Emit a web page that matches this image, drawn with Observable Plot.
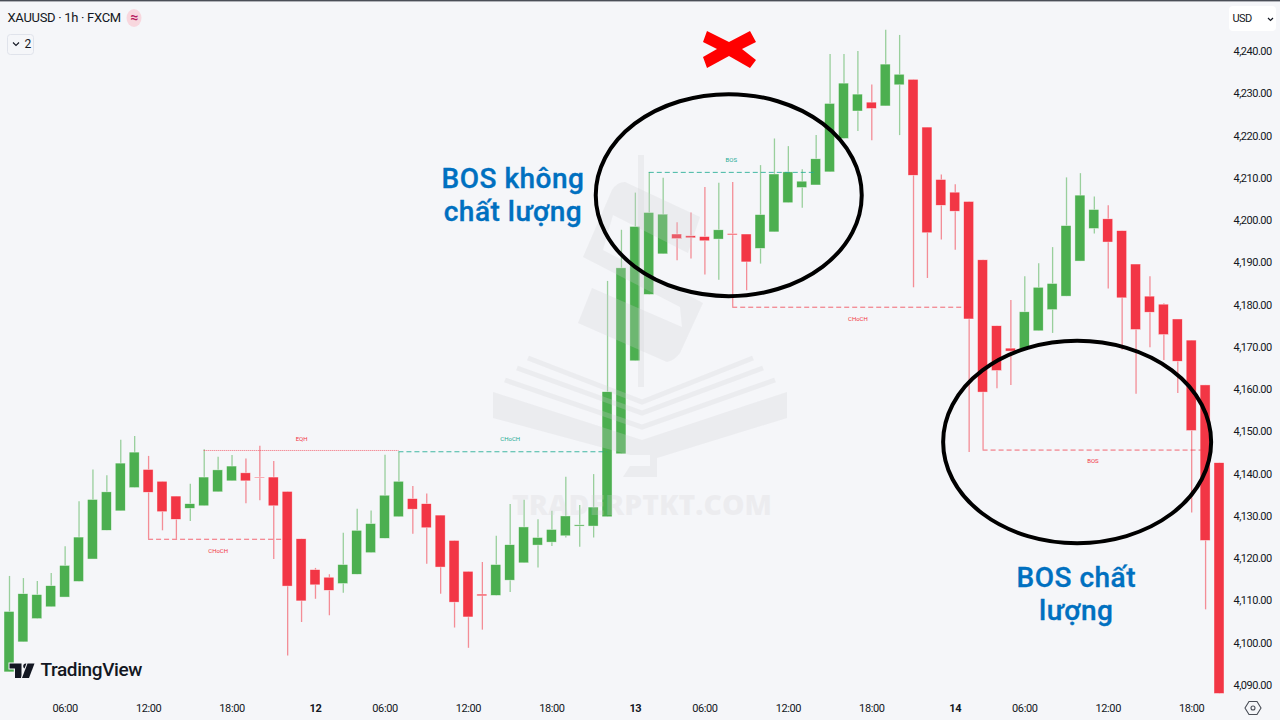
<!DOCTYPE html>
<html>
<head>
<meta charset="utf-8">
<script src="https://cdn.jsdelivr.net/npm/d3@7"></script>
<script src="https://cdn.jsdelivr.net/npm/@observablehq/plot@0.6"></script>
<style>
html,body{margin:0;padding:0;background:#f5f6f9;overflow:hidden}
svg{display:block}
g[aria-label="y-axis tick label"] text{letter-spacing:-.5px}
g[aria-label="x-axis tick label"] text{letter-spacing:-.4px}
.hdr text{letter-spacing:-.3px}
.usd text{letter-spacing:-.6px}
.note text{letter-spacing:.5px;stroke:#0070c0;stroke-width:.35px}
.tv text{letter-spacing:-.4px}
</style>
</head>
<body>
<div id="chart"></div>
<script>
const open = [4093.1,4100.2,4105.7,4108.5,4110.8,4114.5,4119.8,4126.6,4131.2,4136.7,
4141,4138.2,4134.7,4131.8,4132.4,4135.7,4138.3,4140.2,4139.2,4139.2,
4135.8,4124.6,4117.3,4115.5,4114,4116.2,4121.3,4124.7,4129.8,4134.1,
4132.9,4130.2,4124.2,4116.9,4111.5,4111.2,4114.8,4118.9,4123.1,4123.8,
4125.3,4127.6,4127.6,4129.8,4144.7,4166.7,4182.4,4192,4196.7,4196.3,
4196.1,4195.5,4196.8,4196.7,4193.3,4197.2,4204.1,4207.7,4208.3,4211.4,
4219.3,4225.8,4227.9,4227,4232,4233.3,4222,4209.6,4206.6,4204.4,
4190.6,4175,4169.7,4169.5,4173.8,4178.8,4182,4190.3,4198,4200.3,
4197.5,4189.6,4182,4180.1,4176.6,4171.6,4161,4142.6];
const close = [4107.4,4111.6,4111.4,4113.5,4118.3,4125,4133.9,4135.7,4142.5,4145.1,
4135.6,4131,4129.2,4132.9,4139.2,4140.9,4141.8,4138.3,4139,4132.4,
4113.4,4109.9,4113.7,4112.4,4118.5,4126.6,4128.2,4134.9,4138.2,4131.6,
4127.2,4117.9,4109.6,4106.1,4111.1,4118.5,4123.2,4127.4,4124.9,4126.8,
4130,4127.9,4132.1,4159.4,4188.7,4198.5,4201.8,4201.4,4195.6,4195.8,
4195.1,4197.7,4196.5,4190.1,4201.3,4210.9,4211.4,4209.2,4214.5,4227.6,
4232.4,4229.8,4226.4,4236.9,4234.5,4210.6,4197,4203.5,4202.1,4176.6,
4159.3,4164.4,4169,4178.3,4184.1,4185,4198.7,4205.9,4202.5,4194.8,
4181.6,4174.1,4178.2,4172.9,4166.6,4150.2,4124.2,4088];
const high = [4115.8,4115.3,4114.6,4116.5,4122.8,4133.5,4141,4139.6,4148,4148.9,
4144.2,4138.2,4134.7,4137.6,4145.8,4144,4144.4,4143.6,4146.6,4143,
4135.8,4124.6,4117.7,4116.2,4126,4131.7,4131.3,4144.5,4145.2,4137.1,
4135.3,4130.2,4124.2,4116.9,4119.1,4125.3,4132.8,4133.8,4129.2,4131.2,
4139.3,4132.6,4139.9,4185.6,4197.7,4206.5,4211.4,4210,4199.5,4201.8,
4207.8,4208.8,4209,4196.7,4213,4219.3,4217.5,4212,4220.1,4239.3,
4239.3,4240,4232.1,4245,4243.8,4233.3,4222,4210.8,4208.5,4204.4,
4190.6,4175,4181.1,4186.7,4189.8,4193.6,4210.1,4211.1,4205.6,4203.5,
4197.5,4189.6,4186.7,4180.3,4176.6,4171.6,4161,4142.6];
const low = [4093.1,4100.2,4105.7,4108.5,4110.8,4114.5,4119.8,4126.6,4131.2,4136.7,
4124.6,4126.6,4124.6,4128.8,4132.4,4135.7,4138.3,4133,4133.7,4119.8,
4097,4104.9,4110.4,4106.5,4111.8,4116.2,4121.3,4124.7,4129.8,4125.8,
4118.7,4111.6,4103.6,4098.8,4103.1,4111.2,4112,4118.9,4117.8,4122.9,
4124.9,4122.7,4124.9,4129.8,4144.7,4166.7,4182.4,4192,4190.5,4190.9,
4187.1,4185.9,4179.5,4183.4,4189.7,4197.2,4204.1,4202.9,4208.3,4211.4,
4219.3,4221.1,4218.9,4227,4220.1,4184.1,4186.3,4195.4,4193,4145.1,
4145.7,4160.2,4161,4169.5,4173.8,4173.3,4182,4190.3,4196.8,4183.8,
4169.3,4158.9,4169.9,4166.9,4159.1,4130.8,4107.9,4088];

const priceTicks = [4090,4100,4110,4120,4130,4140,4150,4160,4170,4180,4190,4200,4210,4220,4230,4240];
const hourTicks = [4,10,16,27,33,39,50,56,62,73,79,85];
const hourLabels = ["06:00","12:00","18:00","06:00","12:00","18:00","06:00","12:00","18:00","06:00","12:00","18:00"];
const dayTicks = [22,45,68];
const dayLabels = ["12","13","14"];

const structLines = [
  {x1:14,x2:28,y:4145.6,kind:"eqh"},
  {x1:28,x2:43,y:4145.3,kind:"up"},
  {x1:46,x2:58,y:4211.4,kind:"up"},
  {x1:52,x2:69,y:4179.5,kind:"down"},
  {x1:10,x2:20,y:4124.6,kind:"down"},
  {x1:70,x2:86,y:4145.7,kind:"down"}
];
const structLabels = [
  {x:21,y:4148.2,t:"EQH",kind:"down"},
  {x:36,y:4148.2,t:"CHoCH",kind:"up"},
  {x:51.9,y:4214.4,t:"BOS",kind:"up"},
  {x:61,y:4176.8,t:"CHoCH",kind:"down"},
  {x:15,y:4121.7,t:"CHoCH",kind:"down"},
  {x:77.9,y:4143,t:"BOS",kind:"down"}
];
const notes = [
  {x:36.2,y:4206.3,t:"BOS không\nchất lượng"},
  {x:76.7,y:4111.8,t:"BOS chất\nlượng"}
];
const rings = [
  {x:51.75,y:4205.9,rx:133,ry:101},
  {x:76.8,y:4147.5,rx:134,ry:101.2}
];

const GREEN="#4caf50", RED="#f23645", UP_LINE="#22ab94";
const bars = open.map((o,i)=>({i,o,c:close[i],h:high[i],l:low[i],up:close[i]>=o}));
const col = d=>d.up?GREEN:RED;

function decor(index, scales){
  const g = d3.create("svg:g");
  // top strip
  g.append("rect").attr("width",1280).attr("height",1.4).attr("fill","#4a4e57");
  // watermark
  const wm = g.append("g").attr("fill","#d1d1d4").attr("fill-opacity",.25);
  wm.append("rect").attr("x",638).attr("y",155).attr("width",6).attr("height",232);
  wm.append("path").attr("d","M688 253L700 217L625 182Q617 182 612 190L583 257L680 307L682 327L592 288L578 323L667 362Q675 360 680 353L703 303L603 250L613 215Z");
  for (const d of ["M528 358L642 402L753 358","M517 368L642 413L763 368","M505 380L642 427L775 380"])
    wm.append("path").attr("d",d).attr("fill","none").attr("stroke","#d1d1d4").attr("stroke-opacity",.25).attr("stroke-width",5);
  wm.append("path").attr("d","M493 392L642 440L787 392V418L657 458V477H623L630 466H650V455H630L493 418Z");
  wm.append("text").attr("x",642).attr("y",515).attr("text-anchor","middle").attr("font-family","Open Sans").attr("font-weight",800).attr("font-size",29).attr("textLength",260).attr("lengthAdjust","spacingAndGlyphs").text("TRADERPTKT.COM");
  // hand-drawn rings
  for (const r of rings)
    g.append("ellipse").attr("cx",scales.x(r.x)).attr("cy",scales.y(r.y)).attr("rx",r.rx).attr("ry",r.ry)
      .attr("fill","none").attr("stroke","#000").attr("stroke-width",4);
  // red cross
  g.append("path").attr("fill","#ff0000").attr("d","M707 31L729 42L750 31L756 42L742 49L756 60L750 68L729 56L707 68L703 57L717 49L703 42Z");
  // TradingView logo
  const lg = g.append("g").attr("fill","#131722").attr("stroke","#f5f6f9").attr("stroke-width",2).attr("paint-order","stroke");
  lg.append("path").attr("d","M9.5 663.5H21.5V678H15V668.5H9.5Z");
  lg.append("circle").attr("cx",25.8).attr("cy",666).attr("r",2.6);
  lg.append("path").attr("d","M27.5 663.5H34.5L29 678H22Z");
  // header controls
  g.append("ellipse").attr("cx",134).attr("cy",18).attr("rx",7.5).attr("ry",9).attr("fill","#f8d7de");
  g.append("rect").attr("x",7.5).attr("y",34.5).attr("width",26).attr("height",20).attr("rx",3).attr("fill","#f5f6f9").attr("stroke","#e0e3eb");
  g.append("path").attr("d","M13 42.5L16 45.5L19 42.5").attr("fill","none").attr("stroke","#131722").attr("stroke-width",1.1);
  g.append("rect").attr("x",1229).attr("y",6).attr("width",47).attr("height",25).attr("rx",4).attr("fill","#fff");
  g.append("path").attr("d","M1268 18L1270.5 20.5L1273 18").attr("fill","none").attr("stroke","#131722").attr("stroke-width",1.2);
  // settings hexagon
  g.append("path").attr("d","M1249 701.5H1257L1261 708L1257 714.5H1249L1245 708Z").attr("fill","none").attr("stroke","#4a4e57").attr("stroke-width",1.1);
  g.append("circle").attr("cx",1253).attr("cy",708).attr("r",2).attr("fill","none").attr("stroke","#4a4e57").attr("stroke-width",1.1);
  return g.node();
}

const plot = Plot.plot({
  width:1280, height:720,
  marginTop:0, marginLeft:0, marginRight:47, marginBottom:27,
  style:{fontFamily:"Roboto, sans-serif",background:"#f5f6f9",overflow:"hidden"},
  x:{type:"linear",domain:[0,87],range:[9,1219]},
  y:{type:"linear",domain:[4240,4090],range:[51,685]},
  marks:[
    Plot.ruleX(bars,{x:"i",y1:"l",y2:"h",stroke:col,strokeWidth:1.3,strokeOpacity:.55}),
    Plot.rect(bars,{x1:d=>d.i-.36,x2:d=>d.i+.36,y1:"o",y2:"c",fill:col,stroke:"#fff",strokeWidth:.6,strokeOpacity:.7}),
    Plot.ruleY(structLines.filter(d=>d.kind==="eqh"),{x1:"x1",x2:"x2",y:"y",stroke:RED,strokeOpacity:.75,strokeWidth:1,strokeDasharray:"1 1"}),
    Plot.ruleY(structLines.filter(d=>d.kind==="up"),{x1:"x1",x2:"x2",y:"y",stroke:UP_LINE,strokeOpacity:.85,strokeWidth:1,strokeDasharray:"5 3"}),
    Plot.ruleY(structLines.filter(d=>d.kind==="down"),{x1:"x1",x2:"x2",y:"y",stroke:RED,strokeOpacity:.75,strokeWidth:1,strokeDasharray:"5 3"}),
    Plot.text(structLabels,{x:"x",y:"y",text:"t",fill:d=>d.kind==="up"?UP_LINE:RED,fontSize:6}),
    decor,
    Plot.text(notes,{x:"x",y:"y",text:"t",fill:"#0070c0",fontSize:28,fontWeight:500,fontFamily:"Roboto",lineHeight:1.18,className:"note"}),
    Plot.axisY(priceTicks,{anchor:"right",tickSize:0,tickPadding:0,tickFormat:d3.format(",.2f"),fontSize:11,fill:"#131722",label:null}),
    Plot.axisX(hourTicks,{anchor:"bottom",tickSize:0,tickPadding:11,tickFormat:(d)=>hourLabels[hourTicks.indexOf(d)],fontSize:11,fill:"#131722",label:null}),
    Plot.axisX(dayTicks,{anchor:"bottom",tickSize:0,tickPadding:11,tickFormat:(d)=>dayLabels[dayTicks.indexOf(d)],fontSize:11,fontWeight:700,fill:"#131722",label:null}),
    Plot.text(["XAUUSD · 1h · FXCM"],{frameAnchor:"top-left",dx:7,dy:12.5,textAnchor:"start",fontSize:13,fill:"#131722",className:"hdr"}),
    Plot.text(["≈"],{frameAnchor:"top-left",dx:134,dy:12,textAnchor:"middle",fontSize:14,fontWeight:700,fill:"#b71c5f"}),
    Plot.text(["2"],{frameAnchor:"top-left",dx:24,dy:38.5,textAnchor:"start",fontSize:12,fill:"#131722"}),
    Plot.text(["USD"],{frameAnchor:"top-left",dx:1232,dy:13.5,textAnchor:"start",fontSize:11,fill:"#131722",className:"usd"}),
    Plot.text(["TradingView"],{frameAnchor:"top-left",dx:40,dy:662,textAnchor:"start",fontSize:19,fontWeight:500,fontFamily:"Roboto",fill:"#131722",className:"tv"})
  ]
});
document.getElementById("chart").appendChild(plot);
</script>
</body>
</html>
